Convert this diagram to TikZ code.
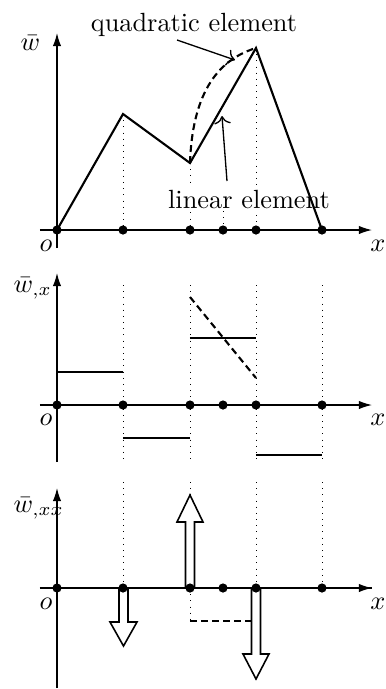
\documentclass[tikz,border=0pt]{standalone}
\usetikzlibrary{arrows.meta}
\begin{document}
\begin{tikzpicture}[x=0.38pt,y=-0.38pt,
  axis/.style={line width=0.5pt,-{Latex[length=5pt,width=3.2pt]}},
  graphline/.style={line width=0.8pt},
  guide/.style={dotted,line width=0.35pt},
  dsh/.style={line width=0.8pt,dash pattern=on 2.6pt off 1.6pt},
  dotnode/.style={circle,fill=black,inner sep=0pt,minimum size=3.5pt},
  blockarrow/.style={draw=black,fill=white,line width=0.6pt},
  pointer/.style={line width=0.5pt,-{To[length=3pt]}},
  lab/.style={inner sep=0pt}]
\useasboundingbox (0,0) rectangle (386,689);

% ================= top plot =================
\coordinate (tyb) at (57,248);
\coordinate (tyt) at (57,33);
\coordinate (txl) at (40,230);
\coordinate (txr) at (372,230);
\coordinate (tA) at (57,230);
\coordinate (tP1) at (123,114);
\coordinate (tP2) at (190,163);
\coordinate (tP3) at (256,48);
\coordinate (tP4) at (322,230);
\coordinate (tB1) at (123,230);
\coordinate (tB2) at (190,230);
\coordinate (tB3) at (223,230);
\coordinate (tB4) at (256,230);
\coordinate (tM) at (223,200);

\draw[axis] (txl) -- (txr);
\draw[axis] (tyb) -- (tyt);
\draw[guide] (tP1) -- (tB1);
\draw[guide] (tP2) -- (tB2);
\draw[guide] (tP3) -- (tB4);
\draw[guide] (tB3) -- (tM);
\node[fill=white,inner sep=1pt,anchor=base west] (linlab) at (165,208) {linear element};
\draw[graphline,line join=miter] (tA) -- (tP1) -- (tP2) -- (tP3) -- (tP4);
\draw[dsh] (tP2) .. controls (192,105) and (210,62) .. (tP3);
\node[lab,anchor=base] (quadlab) at (194,31) {quadratic element};
\coordinate (qa) at (177,40);
\coordinate (qb) at (235,60);
\draw[pointer] (qa) -- (qb);
\coordinate (la) at (227,181);
\coordinate (lb) at (222,116);
\draw[pointer] (la) -- (lb);
\node[lab,anchor=base west] (twl) at (20,50) {$\bar w$};
\node[lab] (tol) at (46,246) {$o$};
\node[lab] (txlab) at (378,246) {$x$};
\foreach \px/\nm in {57/a,123/b,190/c,223/d,256/e,322/f}
  \node[dotnode] (td\nm) at (\px,230) {};

% ================= middle plot =================
\coordinate (myb) at (57,462);
\coordinate (myt) at (57,273);
\coordinate (mxl) at (40,405);
\coordinate (mxr) at (372,405);
\draw[axis] (mxl) -- (mxr);
\draw[axis] (myb) -- (myt);
\foreach \px/\nm in {123/b,190/c,256/e,322/f}{
  \coordinate (mgt\nm) at (\px,285);
  \coordinate (mgb\nm) at (\px,462);
  \draw[guide] (mgt\nm) -- (mgb\nm);
}
\coordinate (ms1a) at (57,372);  \coordinate (ms1b) at (123,372);
\coordinate (ms2a) at (123,438); \coordinate (ms2b) at (190,438);
\coordinate (ms3a) at (190,338); \coordinate (ms3b) at (256,338);
\coordinate (ms4a) at (256,455); \coordinate (ms4b) at (322,455);
\draw[graphline] (ms1a) -- (ms1b);
\draw[graphline] (ms2a) -- (ms2b);
\draw[graphline] (ms3a) -- (ms3b);
\draw[graphline] (ms4a) -- (ms4b);
\coordinate (mda) at (190,297);
\coordinate (mdb) at (256,378);
\draw[dsh] (mda) -- (mdb);
\node[lab,anchor=base west] (mwl) at (13,292) {$\bar w_{,x}$};
\node[lab] (mol) at (46,420) {$o$};
\node[lab] (mxlab) at (378,420) {$x$};
\foreach \px/\nm in {57/a,123/b,190/c,223/d,256/e,322/f}
  \node[dotnode] (md\nm) at (\px,405) {};

% ================= bottom plot =================
\coordinate (byb) at (57,688);
\coordinate (byt) at (57,488);
\coordinate (bxl) at (40,588);
\coordinate (bxr) at (372,588);
\draw[axis] (bxl) -- (bxr);
\draw[axis] (byb) -- (byt);
\foreach \px/\nm in {123/b,190/c,256/e,322/f}{
  \coordinate (bgt\nm) at (\px,482);
  \coordinate (bgb\nm) at (\px,588);
  \draw[guide] (bgt\nm) -- (bgb\nm);
}
\coordinate (bgc2) at (190,621);
\draw[guide] (bgbc) -- (bgc2);
\coordinate (bdb) at (251.5,621);
\draw[dsh] (bgc2) -- (bdb);
% block arrows
\draw[blockarrow] (119,588) -- (119,622) -- (110,622) -- (123.5,646) -- (137,622) -- (128,622) -- (128,588) -- cycle;
\draw[blockarrow] (185.5,588) -- (185.5,522) -- (177,522) -- (190,495) -- (203,522) -- (194.5,522) -- (194.5,588) -- cycle;
\draw[blockarrow] (251.5,588) -- (251.5,654) -- (243,654) -- (256,679) -- (269,654) -- (260.5,654) -- (260.5,588) -- cycle;
\draw[line width=0.5pt] (bxl) -- (bxr);
\node[lab,anchor=base west] (bwl) at (13,512) {$\bar w_{,xx}$};
\node[lab] (bol) at (46,604) {$o$};
\node[lab] (bxlab) at (378,604) {$x$};
\foreach \px/\nm in {57/a,123/b,190/c,223/d,256/e,322/f}
  \node[dotnode] (bd\nm) at (\px,588) {};
\end{tikzpicture}
\end{document}
